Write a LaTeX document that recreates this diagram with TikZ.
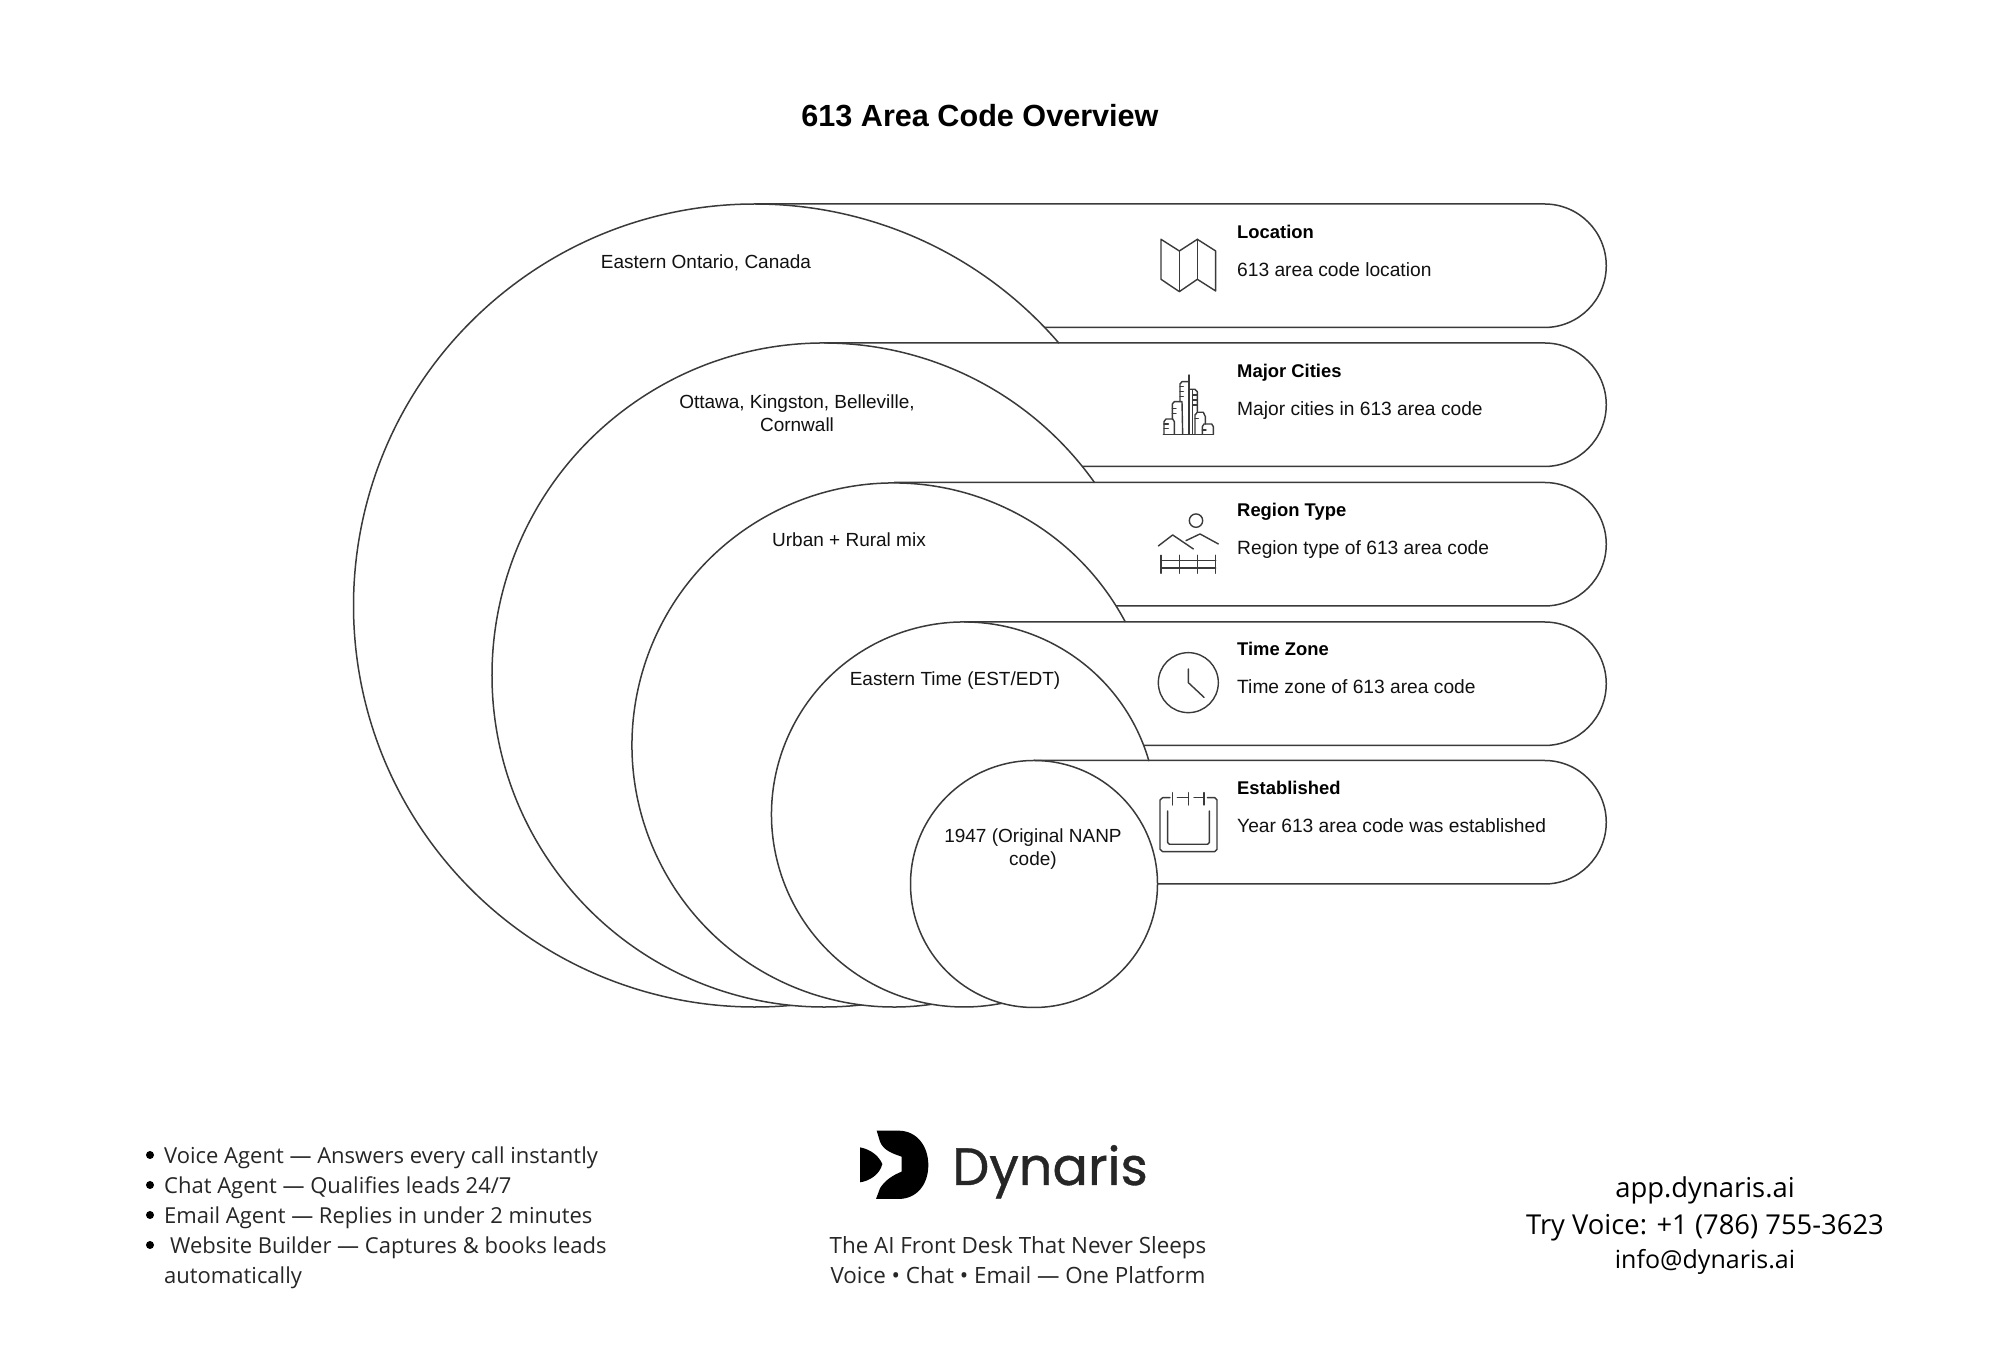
\documentclass[tikz,border=0pt]{standalone}
\usepackage{fontspec}
\setmainfont{Liberation Sans}
\newfontfamily\footfont{Open Sans}
\newfontfamily\logofont[FakeBold=0.7]{Poppins}
\definecolor{ink}{HTML}{111111}
\definecolor{rule}{HTML}{3A3A3A}
\definecolor{foot}{HTML}{262626}
\tikzset{
  x=1pt,y=1pt,
  outline/.style={draw=rule,line width=1.5pt},
  iconline/.style={draw=rule,line width=1.4pt,line join=round,line cap=round},
  lbl/.style={anchor=mid,inner sep=0pt,text=ink,font=\fontsize{19}{23}\selectfont,align=center},
  head/.style={anchor=mid west,inner sep=0pt,text=black,font=\fontsize{18.4}{23}\selectfont\bfseries},
  subhead/.style={anchor=mid west,inner sep=0pt,text=ink,font=\fontsize{19.2}{23}\selectfont},
  listline/.style={anchor=mid west,inner sep=0pt,text=foot,font=\footfont\fontsize{22}{26}\selectfont},
  tagline/.style={anchor=mid,inner sep=0pt,text=foot,font=\footfont\fontsize{22.4}{26}\selectfont},
  contact/.style={anchor=mid,inner sep=0pt,text=black,font=\footfont\fontsize{27.4}{30}\selectfont},
  bulletdot/.style={fill=black,draw=none,circle,minimum size=8pt,inner sep=0pt},
  zoomA/.style={xshift=1120pt,yshift=1159pt,x=0.3333pt,y=-0.3333pt},
  zoomB/.style={xshift=1120pt,yshift=749pt,x=0.3333pt,y=-0.3333pt},
  zoomC/.style={xshift=830pt,yshift=259pt,x=0.3333pt,y=-0.3333pt},
}
\begin{document}
\begin{tikzpicture}
\useasboundingbox (0,0) rectangle (1999,1359);
\fill[white] (0,0) rectangle (1999,1359);
% level 1
\draw[outline] ([shift={(40.8:401.5)}]755,753.5) arc[start angle=40.8,end angle=285,radius=401.5pt];
\draw[outline] (755,1155) -- (1544.5,1155) arc[start angle=90,end angle=-90,radius=61.75pt] -- (1044.7,1031.5);
% level 2
\fill[white] (824,684) circle[radius=332pt];
\draw[outline] ([shift={(35.4:332)}]824,684) arc[start angle=35.4,end angle=285,radius=332pt];
\draw[outline] (824,1016) -- (1544.5,1016) arc[start angle=90,end angle=-90,radius=61.75pt] -- (1082.4,892.5);
% level 3
\fill[white] (894,614) circle[radius=262pt];
\draw[outline] ([shift={(28:262)}]894,614) arc[start angle=28,end angle=285,radius=262pt];
\draw[outline] (894,876.5) -- (1544.5,876.5) arc[start angle=90,end angle=-90,radius=61.75pt] -- (1116,753);
% level 4
\fill[white] (964,544.5) circle[radius=192.5pt];
\draw[outline] ([shift={(16.1:192.5)}]964,544.5) arc[start angle=16.1,end angle=290,radius=192.5pt];
\draw[outline] (964,737) -- (1544.5,737) arc[start angle=90,end angle=-90,radius=61.75pt] -- (1143.7,613.5);
% level 5
\draw[outline,fill=white] (1034,475) circle[radius=123.5pt];
\draw[outline] (1034,598.5) -- (1544.5,598.5) arc[start angle=90,end angle=-90,radius=61.75pt] -- (1157.5,475);

% icons: map, city, region
\begin{scope}[zoomA]
\draw[iconline] (123,118) -- (178,153) -- (232,118) -- (287,153) -- (287,273) -- (232,238) -- (178,275) -- (123,238) -- cycle;
\draw[iconline] (178,153) -- (178,275) (232,118) -- (232,238);
\draw[iconline] (130,703) -- (280,703);
\draw[iconline] (132,703) -- (132,665) -- (138,657) -- (158,657) -- (163,665) -- (163,703);
\draw[iconline] (157,657) -- (157,612) -- (163,605) -- (186,605) -- (188,703);
\draw[iconline] (180,605) -- (180,552) -- (186,545) -- (207,545);
\draw[iconline] (207,525) -- (207,703);
\draw[iconline] (207,568) -- (225,568) -- (232,575) -- (232,635);
\draw[iconline] (218,570) -- (218,703);
\draw[iconline] (225,703) -- (225,645) -- (232,637) -- (250,637) -- (256,650) -- (256,672);
\draw[iconline] (247,703) -- (247,680) -- (252,672) -- (275,672) -- (280,680) -- (280,703);
\draw[iconline] (132,672) -- (145,672) (132,686) -- (145,686) (157,625) -- (168,625) (157,640) -- (168,640)
  (180,560) -- (190,560) (180,575) -- (190,575) (180,590) -- (190,590)
  (218,585) -- (230,585) (218,600) -- (230,600) (218,615) -- (230,615)
  (247,690) -- (258,690) (225,655) -- (235,655);
\draw[iconline] (228,962) circle[radius=6.7pt];
\draw[iconline] (115,1038) -- (158,1005) -- (220,1047) (198,1022) -- (240,1002) -- (295,1032);
\draw[iconline] (123,1066) -- (123,1120) (178,1066) -- (178,1120) (232,1066) -- (232,1120) (287,1066) -- (287,1120);
\draw[iconline] (123,1082) -- (287,1082) (123,1104) -- (287,1104);
\end{scope}
% icons: clock, calendar
\begin{scope}[zoomB]
\draw[iconline] (205,218) circle[radius=30pt];
\draw[iconline] (205,177) -- (205,218) -- (252,262);
\draw[iconline] (150,563) -- (128,563) -- (120,570) -- (120,718) -- (128,725) -- (284,725) -- (291,718) -- (291,570) -- (284,563) -- (262,563);
\draw[iconline] (158,548) -- (158,585) (205,548) -- (205,585) (252,548) -- (252,585);
\draw[iconline] (172,563) -- (205,563) (222,563) -- (252,563);
\draw[iconline] (143,603) -- (143,698) -- (148,703) -- (263,703) -- (268,698) -- (268,603);
\end{scope}
% logo mark
\begin{scope}[zoomC]
\fill[black] (140,92) -- (205,92) .. controls (262,92) and (295,140) .. (295,195) .. controls (295,252) and (262,297) .. (205,297) -- (138,297) -- (150,265) .. controls (165,240) and (190,225) .. (215,215) -- (215,170) .. controls (185,160) and (160,150) .. (150,125) -- cycle;
\fill[black] (90,142) .. controls (120,148) and (145,165) .. (157,192) .. controls (150,222) and (120,243) .. (90,247) -- cycle;
\end{scope}

% texts, placed from the top edge
\begin{scope}[y=-1pt,yshift=1359pt]
\node[anchor=mid,inner sep=0pt,text=black,font=\fontsize{30.6}{36}\selectfont\bfseries] (title) at (980,124) {613 Area Code Overview};
\node[lbl] (c1) at (706,266) {Eastern Ontario, Canada};
\node[lbl] (c2) at (797,429) {Ottawa, Kingston, Belleville,\\Cornwall};
\node[lbl] (c3) at (849,544) {Urban + Rural mix};
\node[lbl] (c4) at (955,683) {Eastern Time (EST/EDT)};
\node[lbl] (c5) at (1033,863) {1947 (Original NANP\\code)};
\node[head] (h1) at (1237,236) {Location};
\node[subhead] (s1) at (1237,274) {613 area code location};
\node[head] (h2) at (1237,375) {Major Cities};
\node[subhead] (s2) at (1237,413) {Major cities in 613 area code};
\node[head] (h3) at (1237,514) {Region Type};
\node[subhead] (s3) at (1237,552) {Region type of 613 area code};
\node[head] (h4) at (1237,653) {Time Zone};
\node[subhead] (s4) at (1237,691) {Time zone of 613 area code};
\node[head] (h5) at (1237,792) {Established};
\node[subhead] (s5) at (1237,830) {Year 613 area code was established};
\node[bulletdot] (b1) at (150,1155) {};
\node[bulletdot] (b2) at (150,1185) {};
\node[bulletdot] (b3) at (150,1215) {};
\node[bulletdot] (b4) at (150,1245) {};
\node[listline] (l1) at (164,1161) {Voice Agent — Answers every call instantly};
\node[listline] (l2) at (164,1191) {Chat Agent — Qualifies leads 24/7};
\node[listline] (l3) at (164,1221) {Email Agent — Replies in under 2 minutes};
\node[listline] (l4) at (170,1251) {Website Builder — Captures \& books leads};
\node[listline] (l5) at (164,1281) {automatically};
\node[anchor=base west,inner sep=0pt,text=foot,font=\logofont\fontsize{52.5}{60}\selectfont] (brand) at (952,1185) {Dynaris};
\node[tagline] (t1) at (1018,1251) {The AI Front Desk That Never Sleeps};
\node[tagline] (t2) at (1018,1281) {Voice • Chat • Email — One Platform};
\node[contact] (r1) at (1705,1195) {app.dynaris.ai};
\node[contact] (r2) at (1705,1232) {Try Voice: +1 (786) 755-3623};
\node[contact,font=\footfont\fontsize{25}{30}\selectfont] (r3) at (1705,1266) {info@dynaris.ai};
\end{scope}
\end{tikzpicture}
\end{document}
